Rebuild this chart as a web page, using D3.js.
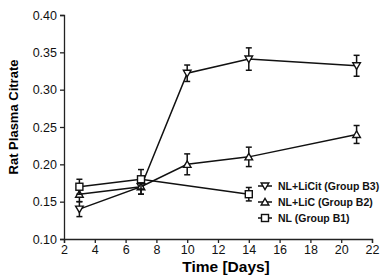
<!DOCTYPE html>
<html>
<head>
<meta charset="utf-8">
<script src="https://cdn.jsdelivr.net/npm/d3@7"></script>
<style>
  body { margin: 0; background: #fff; }
  svg { font-family: 'Liberation Sans', Arial, sans-serif; }
</style>
</head>
<body>
<div id="chart"></div>
<script>
// values
const days = [3, 7, 10, 14, 21];
const b3Mean = [0.14, 0.17, 0.322, 0.341, 0.332];
const b3Err = [0.01, 0.01, 0.011, 0.015, 0.014];
const b2Mean = [0.16, 0.17, 0.2, 0.21, 0.24];
const b2Err = [0.01, 0.01, 0.014, 0.013, 0.012];
const b1Days = [3, 7, 14];
const b1Mean = [0.17, 0.18, 0.16];
const b1Err = [0.01, 0.013, 0.009];
const xTicks = [2, 4, 6, 8, 10, 12, 14, 16, 18, 20, 22];
const yTicks = [0.1, 0.15, 0.2, 0.25, 0.3, 0.35, 0.4];

const series = [
  { name: 'NL+LiCit (Group B3)', shape: 'down', x: days, y: b3Mean, e: b3Err },
  { name: 'NL+LiC (Group B2)', shape: 'up', x: days, y: b2Mean, e: b2Err },
  { name: 'NL (Group B1)', shape: 'square', x: b1Days, y: b1Mean, e: b1Err },
];

const size = { width: 386, height: 280 };
const margin = { left: 64, top: 15, right: 14, bottom: 41 };

const svg = d3.select('#chart')
  .append('svg')
  .attr('width', size.width)
  .attr('height', size.height);

const x = d3.scaleLinear().domain([2, 22]).range([margin.left, size.width - margin.right]);
const y = d3.scaleLinear().domain([0.1, 0.4]).range([size.height - margin.bottom, margin.top]);

const marker = (g, shape) => {
  if (shape === 'square') {
    g.append('rect').attr('x', -3.5).attr('y', -3.5).attr('width', 7).attr('height', 7);
  } else {
    const s = shape === 'up' ? -1 : 1;
    g.append('path').attr('d', `M-3.8,${-3 * s}L3.8,${-3 * s}L0,${3.5 * s}Z`);
  }
  g.selectAll('rect,path')
    .attr('fill', '#fff')
    .attr('stroke', '#111')
    .attr('stroke-width', 1.4);
};

// axes
const yAxis = svg.append('g')
  .attr('transform', `translate(${margin.left},0)`)
  .call(d3.axisLeft(y).tickValues(yTicks).tickFormat(d3.format('.2f')).tickSize(4).tickPadding(3));
const xAxis = svg.append('g')
  .attr('transform', `translate(0,${size.height - margin.bottom})`)
  .call(d3.axisBottom(x).tickValues(xTicks).tickSize(4).tickPadding(2));
[yAxis, xAxis].forEach((a) => {
  a.select('.domain').attr('stroke', '#222').attr('stroke-width', 1.3);
  a.selectAll('.tick line').attr('stroke', '#222').attr('stroke-width', 1.3);
  a.selectAll('.tick text').attr('fill', '#111').style('font-size', '12.5px');
});

svg.append('text')
  .attr('x', 226)
  .attr('y', 272)
  .attr('text-anchor', 'middle')
  .style('font-size', '15.5px')
  .style('font-weight', 'bold')
  .text('Time [Days]');

svg.append('text')
  .attr('transform', `translate(18,117) rotate(-90)`)
  .attr('text-anchor', 'middle')
  .style('font-size', '13px')
  .style('font-weight', 'bold')
  .text('Rat Plasma Citrate');

const line = d3.line().x((d) => x(d.x)).y((d) => y(d.y));

series.forEach((s) => {
  const pts = s.x.map((d, i) => ({ x: d, y: s.y[i], e: s.e[i] }));
  const g = svg.append('g');
  g.append('path')
    .attr('d', line(pts))
    .attr('fill', 'none')
    .attr('stroke', '#111')
    .attr('stroke-width', 1.5);
  const eb = g.selectAll('.eb').data(pts).join('g').attr('stroke', '#111').attr('stroke-width', 1.5);
  eb.append('line')
    .attr('x1', (d) => x(d.x)).attr('x2', (d) => x(d.x))
    .attr('y1', (d) => y(d.y - d.e)).attr('y2', (d) => y(d.y + d.e));
  eb.append('line')
    .attr('x1', (d) => x(d.x) - 3).attr('x2', (d) => x(d.x) + 3)
    .attr('y1', (d) => y(d.y + d.e)).attr('y2', (d) => y(d.y + d.e));
  eb.append('line')
    .attr('x1', (d) => x(d.x) - 3).attr('x2', (d) => x(d.x) + 3)
    .attr('y1', (d) => y(d.y - d.e)).attr('y2', (d) => y(d.y - d.e));
  pts.forEach((d) => {
    marker(g.append('g').attr('transform', `translate(${x(d.x)},${y(d.y)})`), s.shape);
  });
});

// legend
const legend = svg.append('g').attr('transform', 'translate(265,186)');
series.forEach((s, i) => {
  const row = legend.append('g').attr('transform', `translate(0,${i * 16})`);
  row.append('line').attr('x1', -7).attr('x2', 7).attr('stroke', '#111').attr('stroke-width', 1.5);
  marker(row.append('g'), s.shape);
  row.append('text')
    .attr('x', 13)
    .attr('y', 4)
    .style('font-size', '10.5px')
    .style('font-weight', 'bold')
    .attr('fill', '#111')
    .text(s.name);
});
</script>
</body>
</html>
